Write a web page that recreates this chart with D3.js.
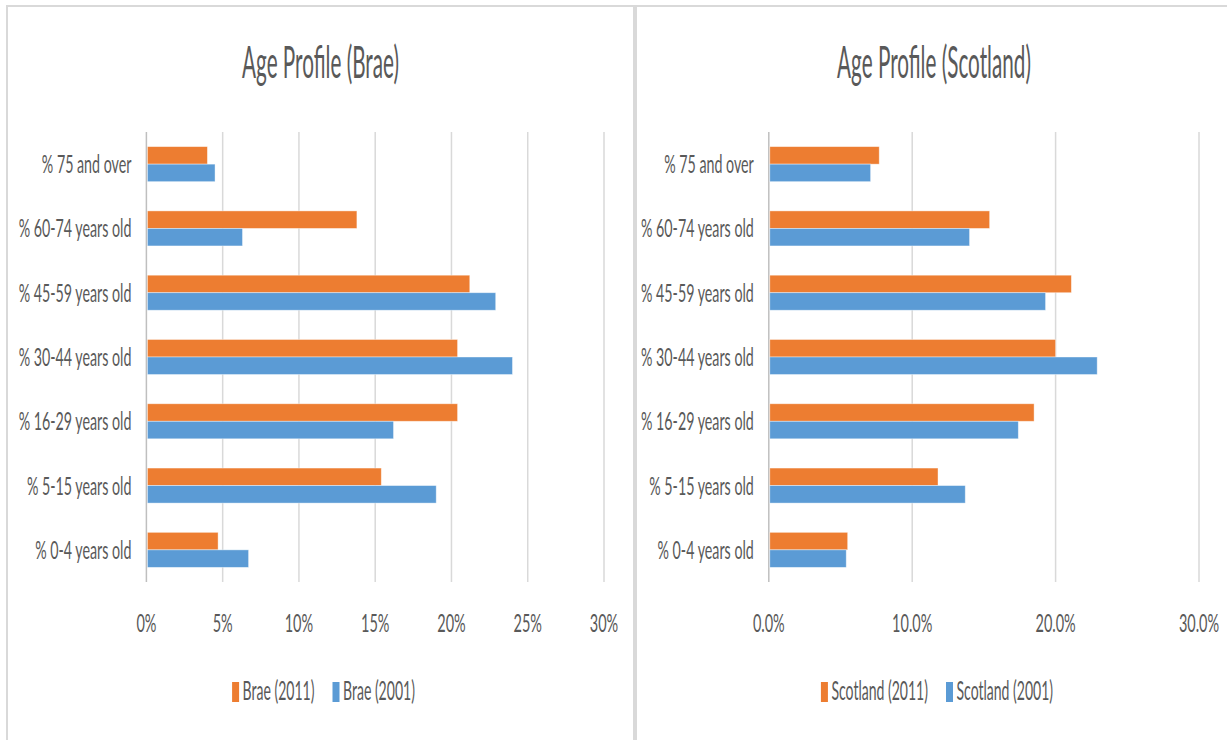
<!DOCTYPE html>
<html>
<head>
<meta charset="utf-8">
<script src="https://cdn.jsdelivr.net/npm/d3@7"></script>
<style>
  html, body { margin: 0; padding: 0; background: #fff; }
  svg { display: block; }
</style>
</head>
<body>
<div id="chart"></div>
<script>
// age bands, top to bottom as shown
var categories = [
    "% 75 and over", "% 60-74 years old", "% 45-59 years old",
    "% 30-44 years old", "% 16-29 years old", "% 5-15 years old",
    "% 0-4 years old"
];

// percentages
var brae2011 = [4.0, 13.8, 21.2, 20.4, 20.4, 15.4, 4.7];
var brae2001 = [4.5, 6.3, 22.9, 24.0, 16.2, 19.0, 6.7];
var scot2011 = [7.7, 15.4, 21.1, 20.0, 18.5, 11.8, 5.5];
var scot2001 = [7.1, 14.0, 19.3, 22.9, 17.4, 13.7, 5.4];

var braeTicks = [0, 5, 10, 15, 20, 25, 30];
var scotTicks = [0, 10, 20, 30];

var W = 1227, H = 740;
var col_2011 = "#ED7D31", col_2001 = "#5B9BD5";
var txt = "#595959", grid = "#d9d9d9";
var FONT = "Lato, 'Open Sans', sans-serif";

var svg = d3.select("#chart").append("svg")
    .attr("width", W).attr("height", H);
svg.append("rect").attr("width", W).attr("height", H).attr("fill", "#fff");

// text squeezed horizontally like the source image
function label(g, x, y, str, size, sx, anchor) {
    return g.append("g")
        .attr("transform", "translate(" + x + "," + y + ")")
        .append("text")
        .attr("transform", "scale(" + sx + ",1)")
        .attr("text-anchor", anchor || "middle")
        .attr("font-family", FONT)
        .attr("font-size", size)
        .attr("fill", txt)
        .text(str);
}

var panels = [
    { x0: 7, x1: 634, px0: 146.4, px1: 604, title: "Age Profile (Brae)",
      s2011: brae2011, s2001: brae2001, ticks: braeTicks, fmt: d => d + "%",
      names: ["Brae (2011)", "Brae (2001)"] },
    { x0: 636, x1: 1232, px0: 768.8, px1: 1199, title: "Age Profile (Scotland)",
      s2011: scot2011, s2001: scot2001, ticks: scotTicks, fmt: d => d.toFixed(1) + "%",
      names: ["Scotland (2011)", "Scotland (2001)"] }
];

var plotTop = 132, plotBot = 582;

panels.forEach(function(p) {
    var g = svg.append("g");

    // panel frame
    g.append("rect")
        .attr("x", p.x0).attr("y", 6)
        .attr("width", p.x1 - p.x0).attr("height", H + 20)
        .attr("fill", "none").attr("stroke", grid).attr("stroke-width", 2);

    var cx = (p.x0 + p.x1) / 2;
    label(g, cx, 78, p.title, 45, 0.46);

    var x = d3.scaleLinear().domain([0, 30]).range([p.px0, p.px1]);
    var y = d3.scaleBand().domain(categories).range([plotTop, plotBot])
        .paddingInner(0.455).paddingOuter(0.2275);
    var sub = d3.scaleBand().domain(["2011", "2001"]).range([0, y.bandwidth()]);

    // gridlines
    g.append("g").selectAll("line")
        .data(p.ticks)
        .enter().append("line")
        .attr("x1", d => x(d)).attr("x2", d => x(d))
        .attr("y1", plotTop).attr("y2", plotBot)
        .attr("stroke", d => d === 0 ? "#bfbfbf" : grid)
        .attr("stroke-width", 1.5);

    // tick labels
    p.ticks.forEach(function(t) {
        label(g, x(t), 632, p.fmt(t), 25, 0.58);
    });

    // category labels
    categories.forEach(function(c) {
        label(g, x(0) - 15, y(c) + y.bandwidth() / 2 + 9, c, 25, 0.57, "end");
    });

    // bars
    var rows = categories.map((c, i) => ({ cat: c, v2011: p.s2011[i], v2001: p.s2001[i] }));
    var bars = g.append("g").selectAll("g")
        .data(rows)
        .enter().append("g")
        .attr("transform", d => "translate(0," + y(d.cat) + ")");
    bars.append("rect")
        .attr("x", x(0) + 1).attr("y", sub("2011"))
        .attr("width", d => x(d.v2011) - x(0) - 1).attr("height", sub.bandwidth())
        .attr("fill", col_2011).attr("stroke", "#fff").attr("stroke-opacity", 0.5).attr("stroke-width", 0.8);
    bars.append("rect")
        .attr("x", x(0) + 1).attr("y", sub("2001"))
        .attr("width", d => x(d.v2001) - x(0) - 1).attr("height", sub.bandwidth())
        .attr("fill", col_2001).attr("stroke", "#fff").attr("stroke-opacity", 0.5).attr("stroke-width", 0.8);

    // legend, centered under the plot
    var lg = g.append("g");
    var items = [{ name: p.names[0], col: col_2011 }, { name: p.names[1], col: col_2001 }];
    var cursor = 0;
    items.forEach(function(it) {
        lg.append("rect").attr("x", cursor).attr("y", 682)
            .attr("width", 7).attr("height", 20).attr("fill", it.col);
        var t = label(lg, cursor + 10.5, 700, it.name, 26, 0.54, "start");
        var w = t.node().getComputedTextLength() * 0.54;
        cursor += 10.5 + w + 18;
    });
    var total = cursor - 18;
    lg.attr("transform", "translate(" + (cx + 3 - total / 2) + ",0)");
});
</script>
</body>
</html>
